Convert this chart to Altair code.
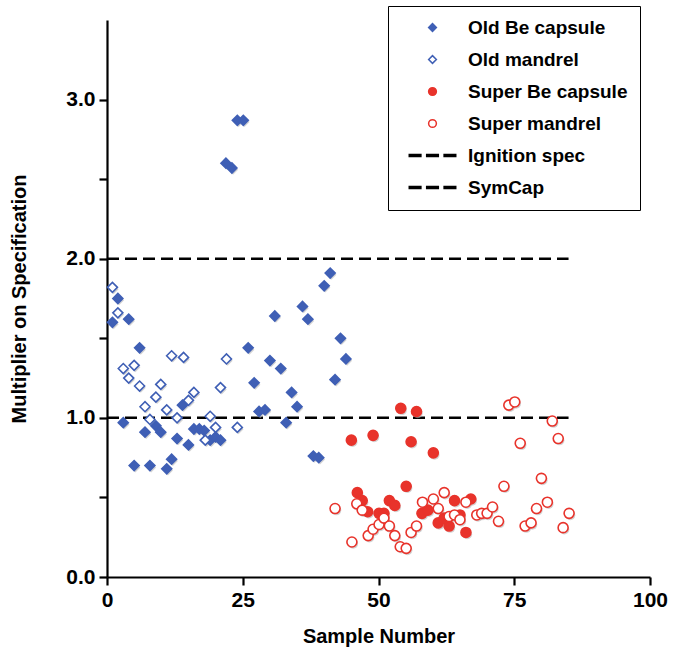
import altair as alt
import pandas as pd

# ---------------- data ----------------
series_names = ["Old Be capsule", "Old mandrel", "Super Be capsule",
                "Super mandrel", "Ignition spec", "SymCap"]

old_be_x = [1, 2, 3, 4, 5, 6, 7, 7.9, 9, 9.9, 11, 11.9, 12.9, 13.9, 15, 16,
            17, 17.9, 19, 20, 20.9, 21.9, 23, 24, 25.1, 26, 27.1, 28, 29.1,
            30, 30.9, 32, 33, 34, 35, 36, 37, 38, 39, 40, 41.1, 42, 43, 44]
old_be_y = [1.60, 1.75, 0.97, 1.62, 0.70, 1.44, 0.91, 0.70, 0.95, 0.91, 0.68,
            0.74, 0.87, 1.08, 0.83, 0.93, 0.93, 0.92, 0.86, 0.88, 0.86, 2.60,
            2.57, 2.87, 2.87, 1.44, 1.22, 1.04, 1.05, 1.36, 1.64, 1.31, 0.97,
            1.16, 1.07, 1.70, 1.62, 0.76, 0.75, 1.83, 1.91, 1.24, 1.50, 1.37]

old_mandrel_x = [1, 2, 3, 4, 5, 6, 7, 7.9, 9, 9.9, 11, 11.9, 12.9, 14.1, 15,
                 16, 18.1, 19, 20, 20.9, 22, 24]
old_mandrel_y = [1.82, 1.66, 1.31, 1.25, 1.33, 1.20, 1.07, 0.99, 1.13, 1.21,
                 1.05, 1.39, 1.00, 1.38, 1.11, 1.16, 0.86, 1.01, 0.94, 1.19,
                 1.37, 0.94]

super_be_x = [45, 46.1, 47, 48, 49, 50.1, 51, 52, 53, 54.1, 55.1, 56, 57, 58,
              59.1, 60.1, 61, 62.1, 63, 64, 65, 66.1, 67]
super_be_y = [0.86, 0.53, 0.48, 0.41, 0.89, 0.40, 0.40, 0.48, 0.45, 1.06,
              0.57, 0.85, 1.04, 0.40, 0.42, 0.78, 0.34, 0.37, 0.32, 0.48,
              0.39, 0.28, 0.49]

super_mandrel_x = [42, 45.1, 46, 47, 48.1, 49, 50.1, 51, 52, 53, 54, 55.1, 56,
                   57, 58.1, 60.1, 61, 62.1, 63, 64, 65, 66.1, 68.1, 69, 70,
                   71, 72.1, 73.1, 74, 75.1, 76.1, 77, 78.1, 79.1, 80, 81.1,
                   82, 83.1, 84, 85.1]
super_mandrel_y = [0.43, 0.22, 0.46, 0.42, 0.26, 0.30, 0.33, 0.37, 0.32, 0.26,
                   0.19, 0.18, 0.28, 0.32, 0.47, 0.49, 0.43, 0.53, 0.38, 0.39,
                   0.36, 0.47, 0.39, 0.40, 0.40, 0.44, 0.35, 0.57, 1.08, 1.10,
                   0.84, 0.32, 0.34, 0.43, 0.62, 0.47, 0.98, 0.87, 0.31, 0.40]

spec_names = ["Ignition spec", "SymCap"]
spec_levels = [1.0, 2.0]
spec_start = [0, 0]
spec_end = [85, 85]

x_ticks = [0, 25, 50, 75, 100]
y_ticks = [0, 0.5, 1.0, 1.5, 2.0, 2.5, 3.0]

# ---------------- tables ----------------
rows = []
for name, xs, ys in [(series_names[0], old_be_x, old_be_y),
                     (series_names[1], old_mandrel_x, old_mandrel_y),
                     (series_names[2], super_be_x, super_be_y),
                     (series_names[3], super_mandrel_x, super_mandrel_y)]:
    for xv, yv in zip(xs, ys):
        rows.append({"series": name, "x": xv, "y": yv})
points_df = pd.DataFrame(rows)

lines_df = pd.DataFrame({"series": spec_names, "y": spec_levels,
                         "x0": spec_start, "x1": spec_end})

# ---------------- style ----------------
FONT = "Liberation Sans"
blue = "#3f5fb5"
red = "#e8332b"
dash_path = ("M-6,-0.25H-3V0.25H-6Z M-1.5,-0.25H1.5V0.25H-1.5Z "
             "M3,-0.25H6V0.25H3Z")

stroke_range = [blue, blue, red, red, "black", "black"]
fill_range = [blue, "white", red, "white", "black", "black"]
shape_range = ["diamond", "diamond", "circle", "circle", dash_path, dash_path]

x_scale = alt.Scale(domain=[0, 100], nice=False, zero=False)
y_scale = alt.Scale(domain=[0, 3.5], nice=False)

x_axis = alt.Axis(values=x_ticks, title="Sample Number", grid=False,
                  labelFlush=False, labelExpr="format(datum.value, 'd')")
y_axis = alt.Axis(values=y_ticks, title="Multiplier on Specification",
                  grid=False, labelFlush=False,
                  labelExpr="datum.value % 1 == 0 ? format(datum.value, '.1f') : ''")

legend = alt.Legend(title=None, orient="none", legendX=281, legendY=-14)


def shadow_layer(names, shape):
    return alt.Chart(points_df).transform_filter(
        alt.FieldOneOfPredicate(field="series", oneOf=names)
    ).mark_point(
        filled=True, size=100, color="#b5b5b5", opacity=0.6,
        xOffset=1.2, yOffset=1.8, shape=shape
    ).encode(
        x=alt.X("x:Q", scale=x_scale, axis=x_axis),
        y=alt.Y("y:Q", scale=y_scale, axis=y_axis),
    )


shadow_old = shadow_layer(series_names[:2], "diamond")
shadow_super = shadow_layer(series_names[2:4], "circle")

pts = alt.Chart(points_df).mark_point(filled=False, size=100, strokeWidth=1.6,
                                      opacity=1).encode(
    x=alt.X("x:Q", scale=x_scale, axis=x_axis),
    y=alt.Y("y:Q", scale=y_scale, axis=y_axis),
    color=alt.Color("series:N", legend=legend,
                    scale=alt.Scale(domain=series_names, range=stroke_range)),
    fill=alt.Fill("series:N", legend=legend,
                  scale=alt.Scale(domain=series_names, range=fill_range)),
    shape=alt.Shape("series:N", legend=legend,
                    scale=alt.Scale(domain=series_names, range=shape_range)),
)

rules = alt.Chart(lines_df).mark_rule(
    color="black", strokeWidth=2.5, strokeDash=[12, 6]
).encode(
    x=alt.X("x0:Q", scale=x_scale, axis=x_axis),
    x2="x1:Q",
    y=alt.Y("y:Q", scale=y_scale, axis=y_axis),
)

chart = alt.layer(rules, shadow_old, shadow_super, pts).properties(
    width=543, height=557,
    autosize=alt.AutoSizeParams(type="none"),
    padding={"left": 107, "top": 20, "right": 23, "bottom": 80},
    background="white",
).configure_view(stroke=None).configure_axis(
    domainColor="black", domainWidth=2.2, tickColor="black", tickWidth=2.2,
    tickSize=8, labelFont=FONT, labelFontSize=21, labelFontWeight="bold",
    labelColor="black", titleFont=FONT, titleFontSize=20,
    titleFontWeight="bold", titleColor="black", labelPadding=4,
).configure_axisX(titlePadding=16).configure_axisY(titlePadding=36).configure_legend(
    labelFont=FONT, labelFontSize=19, labelFontWeight="bold",
    labelColor="black", strokeColor="black", fillColor="white",
    padding=12, rowPadding=12, symbolSize=60, symbolStrokeWidth=1.5,
    symbolOffset=23, labelOffset=26, labelLimit=400,
)

chart.save("out.html", embed_options={"renderer": "svg", "actions": False})
